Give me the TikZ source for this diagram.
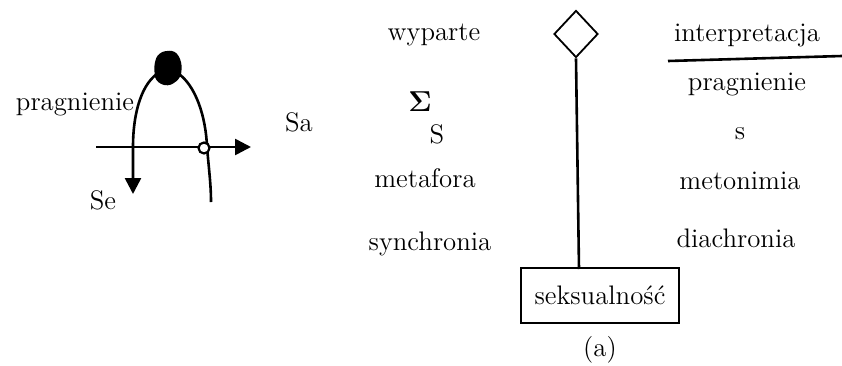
\documentclass[tikz,border=0pt]{standalone}
\usetikzlibrary{arrows.meta,shapes.geometric}
\begin{document}
\begin{tikzpicture}[x=0.5pt,y=-0.5pt,
  lbl/.style={inner sep=0pt,font=\fontsize{13.4}{15}\selectfont},
  ln/.style={line width=1.3pt},
  tip/.style={-{Triangle[length=8pt,width=8pt]}}]
\useasboundingbox (0,0) rectangle (842,365);
% left diagram
\node[lbl] (prL) at (75,104) {pragnienie};
\node[lbl] (Se) at (103,200) {Se};
\node[lbl] (Sa) at (299,122) {Sa};
\coordinate (axL) at (96,147);
\coordinate (axR) at (251,147);
\draw[ln,tip] (axL) -- (axR);
\coordinate (legL) at (133,194);
\coordinate (legR) at (211,202);
\draw[ln,tip] (160,72) .. controls (142,82) and (133,112) .. (133,147) -- (legL);
\draw[ln] (176,72) .. controls (196,84) and (206,118) .. (207,147) .. controls (209,170) and (211,185) .. (legR);
\fill[rounded corners=3pt] (159,52) -- (175,50) -- (182,62) -- (181,78) -- (168,87) -- (155,81) -- (154,63) -- cycle;
\node[circle,draw,fill=white,line width=1.1pt,minimum size=5.5pt,inner sep=0pt] (oc) at (204,148) {};
% right diagram
\node[lbl] (wyp) at (434,35) {wyparte};
\node[diamond,draw,line width=0.9pt,minimum width=22pt,minimum height=23.5pt,inner sep=0pt,aspect=1] (dia) at (576,34) {};
\node[lbl] (interp) at (747,35) {interpretacja};
\node[lbl] (prR) at (747,84) {pragnienie};
\coordinate (fl) at (668,61);
\coordinate (fr) at (842,56);
\draw[ln] (fl) -- (fr);
\node[lbl] (sig) at (420,102) {$\mathbf{\Sigma}$};
\node[lbl] (S) at (437,134) {S};
\node[lbl] (s) at (740,134) {s};
\node[lbl] (meta) at (425,178) {metafora};
\node[lbl] (meto) at (740,181) {metonimia};
\node[lbl] (syn) at (430,244) {synchronia};
\node[lbl] (dia2) at (736,238) {diachronia};
\node[lbl,draw,line width=1.3pt,minimum width=79pt,minimum height=27.5pt] (box) at (600,295.5) {seksualność};
\coordinate (bt) at (579,269);
\draw[ln] (dia.south) -- (bt);
\node[lbl] (cap) at (600,350) {(a)};
\end{tikzpicture}
\end{document}
